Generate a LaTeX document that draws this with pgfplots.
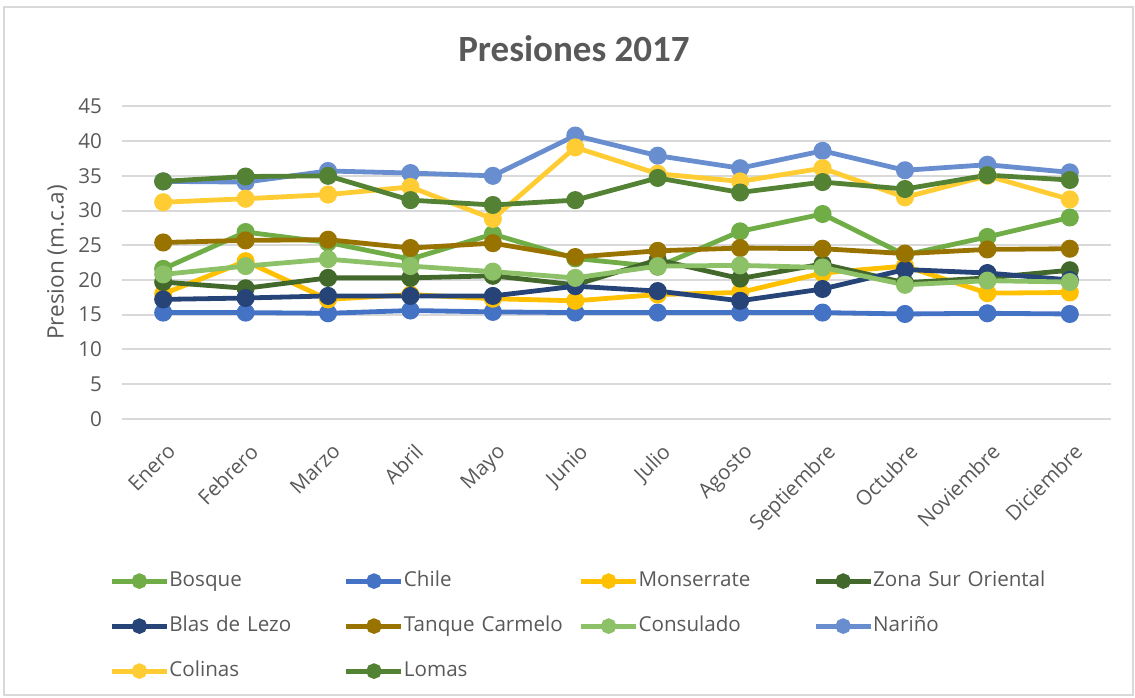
\documentclass[border=0pt]{standalone}
\usepackage{fontspec}
\setmainfont{Open Sans}
\newfontfamily\titlefont{Carlito}
\usepackage{pgfplots}
\pgfplotsset{compat=1.18}
\definecolor{cBosque}{HTML}{70AD47}
\definecolor{cChile}{HTML}{4472C4}
\definecolor{cMons}{HTML}{FFC000}
\definecolor{cZSO}{HTML}{43682B}
\definecolor{cBlas}{HTML}{264478}
\definecolor{cTanque}{HTML}{997300}
\definecolor{cConsul}{HTML}{8CC168}
\definecolor{cNarino}{HTML}{698ED0}
\definecolor{cColinas}{HTML}{FFCD33}
\definecolor{cLomas}{HTML}{548235}
\definecolor{txt}{HTML}{595959}
\definecolor{gridc}{HTML}{D9D9D9}
\begin{document}
\begin{tikzpicture}
\useasboundingbox (-61pt,-139.1pt) rectangle (506.5pt,209.4pt);
\draw[gridc, line width=1pt] (-59pt,-138.1pt) rectangle (505.5pt,205.9pt);
\begin{axis}[
  at={(0pt,0pt)}, anchor=south west,
  scale only axis, width=494.5pt, height=156.2pt,
  xmin=-0.5, xmax=11.5, ymin=0, ymax=45,
  xtick={0,...,11},
  xticklabels={Enero,Febrero,Marzo,Abril,Mayo,Junio,Julio,Agosto,Septiembre,Octubre,Noviembre,Diciembre},
  ytick={0,5,...,45},
  ymajorgrids, grid style={gridc, line width=1pt},
  axis line style={draw=none}, major tick length=0pt, tick style={draw=none},
  /pgf/number format/assume math mode=true,
  tick label style={font=\fontsize{10.3}{12}\selectfont, text=txt},
  y tick label style={xshift=-6.5pt},
  x tick label style={rotate=45, anchor=north east, xshift=-3.8pt, yshift=-5.9pt},
  ylabel={Presion (m.c.a)},
  ylabel style={at={(axis description cs:0,0.5)}, anchor=center, yshift=32.5pt, font=\fontsize{11.3}{13}\selectfont, text=txt},
  every axis plot/.append style={line width=2.4pt, mark=*, mark size=3.3pt},
  legend image code/.code={\draw[mark repeat=2,mark phase=2,#1,line width=2.5pt,mark size=2.6pt] plot coordinates {(0pt,0pt) (13.75pt,0pt) (27.5pt,0pt)};},
  legend columns=4,
  legend cell align=left,
  legend style={at={(rel axis cs:0,0)}, anchor=north west, xshift=-6.5pt, yshift=-75.95pt,
    draw=none, fill=none, inner sep=0pt, text=txt,
    font=\fontsize{10.3}{12}\selectfont,
    row sep=12.5pt,
    /tikz/every odd column/.append style={column sep=0pt},
    /tikz/every even column/.append style={column sep=3.3pt, nodes={text width=84pt, inner sep=0pt, text height=7.5pt, text depth=2.5pt}}},
]
\addplot[color=cBosque] coordinates {(0,21.6) (1,26.9) (2,25.4) (3,23.0) (4,26.6) (5,23.1) (6,21.9) (7,27.0) (8,29.5) (9,23.6) (10,26.2) (11,29.0)};
\addlegendentry{Bosque}
\addplot[color=cChile] coordinates {(0,15.3) (1,15.3) (2,15.2) (3,15.6) (4,15.4) (5,15.3) (6,15.3) (7,15.3) (8,15.3) (9,15.1) (10,15.2) (11,15.1)};
\addlegendentry{Chile}
\addplot[color=cMons] coordinates {(0,18.0) (1,22.7) (2,17.2) (3,17.9) (4,17.3) (5,17.0) (6,17.9) (7,18.2) (8,21.0) (9,22.0) (10,18.1) (11,18.2)};
\addlegendentry{Monserrate}
\addplot[color=cZSO] coordinates {(0,19.7) (1,18.8) (2,20.3) (3,20.3) (4,20.6) (5,19.3) (6,22.9) (7,20.2) (8,22.3) (9,19.6) (10,20.3) (11,21.4)};
\addlegendentry{\mbox{Zona Sur Oriental}}
\addplot[color=cBlas] coordinates {(0,17.2) (1,17.4) (2,17.7) (3,17.7) (4,17.7) (5,19.1) (6,18.4) (7,17.0) (8,18.7) (9,21.5) (10,21.0) (11,20.0)};
\addlegendentry{\mbox{Blas de Lezo}}
\addplot[color=cTanque] coordinates {(0,25.4) (1,25.7) (2,25.8) (3,24.6) (4,25.3) (5,23.3) (6,24.2) (7,24.6) (8,24.5) (9,23.8) (10,24.4) (11,24.5)};
\addlegendentry{\mbox{Tanque Carmelo}}
\addplot[color=cConsul] coordinates {(0,20.8) (1,22.0) (2,23.0) (3,22.0) (4,21.2) (5,20.3) (6,22.0) (7,22.1) (8,21.8) (9,19.3) (10,19.9) (11,19.7)};
\addlegendentry{Consulado}
\addplot[color=cNarino] coordinates {(0,34.2) (1,34.1) (2,35.7) (3,35.4) (4,35.0) (5,40.8) (6,37.9) (7,36.1) (8,38.6) (9,35.8) (10,36.6) (11,35.5)};
\addlegendentry{Nariño}
\addplot[color=cColinas] coordinates {(0,31.2) (1,31.7) (2,32.3) (3,33.4) (4,28.8) (5,39.1) (6,35.3) (7,34.2) (8,36.1) (9,31.9) (10,35.0) (11,31.6)};
\addlegendentry{Colinas}
\addplot[color=cLomas] coordinates {(0,34.2) (1,34.9) (2,35.0) (3,31.5) (4,30.8) (5,31.5) (6,34.7) (7,32.6) (8,34.1) (9,33.1) (10,35.1) (11,34.4)};
\addlegendentry{Lomas}
\end{axis}
\node[anchor=base, text=txt, font=\titlefont\fontsize{18.5}{22}\selectfont\bfseries] at (226pt,178.55pt) {Presiones 2017};
\end{tikzpicture}
\end{document}
